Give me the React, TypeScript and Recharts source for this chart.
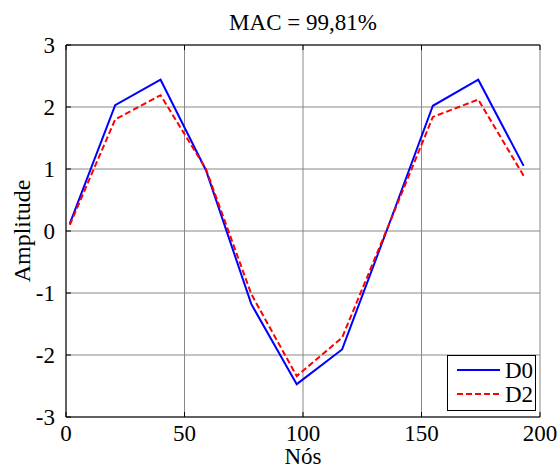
import React from 'react';
import { LineChart, Line, XAxis, YAxis, CartesianGrid } from 'recharts';

const nodes = [1.6, 20.75, 39.9, 59.05, 78.2, 97.35, 116.5, 135.65, 154.8, 173.95, 193.1];
const d0 = [0.12, 2.03, 2.44, 0.98, -1.18, -2.47, -1.91, 0.04, 2.02, 2.44, 1.05];
const d2 = [0.1, 1.8, 2.19, 1.0, -1.02, -2.34, -1.72, 0.05, 1.84, 2.12, 0.89];
const xTicks = [0, 50, 100, 150, 200];
const yTicks = [-3, -2, -1, 0, 1, 2, 3];
const title = 'MAC = 99,81%';
const xLabel = 'Nós';
const yLabel = 'Amplitude';
const seriesNames = ['D0', 'D2'];

const data = nodes.map((n, i) => ({ x: n, d0: d0[i], d2: d2[i] }));

const FONT = '"Liberation Serif", "Times New Roman", serif';
const FS = 23;

const LegendBox = () => (
  <div style={{ position: 'absolute', left: 447, top: 355, width: 89, height: 56, boxSizing: 'border-box', border: '1px solid #000', background: '#fff' }}>
    <svg width={87} height={54} style={{ display: 'block' }}>
      <line x1={9} x2={52} y1={14} y2={14} stroke="#0000ff" strokeWidth={2} />
      <text x={57} y={14} dy="0.35em" fontFamily={FONT} fontSize={FS} fill="#000">{seriesNames[0]}</text>
      <line x1={9} x2={52} y1={38} y2={38} stroke="#ff0000" strokeWidth={2} strokeDasharray="6 3" />
      <text x={57} y={38} dy="0.35em" fontFamily={FONT} fontSize={FS} fill="#000">{seriesNames[1]}</text>
    </svg>
  </div>
);

export default function App() {
  return (
    <div style={{ position: 'absolute', left: 0, top: 0, width: 560, height: 475, background: '#fff', fontFamily: FONT }}>
      <style>{`svg text { font-family: "Liberation Serif", "Times New Roman", serif !important; }`}</style>
      <LineChart width={560} height={475} data={data} margin={{ top: 0, right: 20, bottom: 0, left: 0 }}
        style={{ fontFamily: FONT }}>
        <CartesianGrid stroke="#888" strokeWidth={1} xAxisId="bottom" yAxisId="left"
          horizontalValues={yTicks} verticalValues={xTicks} />
        <XAxis xAxisId="bottom" dataKey="x" type="number" domain={[0, 200]} ticks={xTicks} interval={0}
          height={58} tickSize={-5} tickMargin={13} stroke="#000"
          tick={{ fill: '#000', fontSize: FS, fontFamily: FONT }}
          label={{ value: xLabel, position: 'insideBottom', offset: 11, fill: '#000', fontSize: FS, fontFamily: FONT }} />
        <XAxis xAxisId="top" orientation="top" dataKey="x" type="number" domain={[0, 200]} ticks={xTicks} interval={0}
          height={45} tickSize={-5} stroke="#000" tick={() => <g />}
          label={{ value: title, position: 'insideTop', offset: 14, fill: '#000', fontSize: FS, fontFamily: FONT }} />
        <YAxis yAxisId="left" type="number" domain={[-3, 3]} ticks={yTicks} interval={0}
          width={66} tickSize={-5} tickMargin={16} stroke="#000"
          tick={{ fill: '#000', fontSize: FS, fontFamily: FONT }}
          label={{ value: yLabel, angle: -90, position: 'insideLeft', offset: 21, fill: '#000', fontSize: 24, fontFamily: FONT, style: { textAnchor: 'middle' } }} />
        <YAxis yAxisId="right" orientation="right" type="number" domain={[-3, 3]} ticks={yTicks} interval={0}
          width={0} tickSize={-5} stroke="#000" tick={() => <g />} />
        <Line xAxisId="bottom" yAxisId="left" type="linear" dataKey="d0" name={seriesNames[0]} stroke="#0000ff" strokeWidth={2}
          dot={false} isAnimationActive={false} />
        <Line xAxisId="bottom" yAxisId="left" type="linear" dataKey="d2" name={seriesNames[1]} stroke="#ff0000" strokeWidth={2}
          strokeDasharray="6 3" dot={false} isAnimationActive={false} />
      </LineChart>
      <LegendBox />
    </div>
  );
}
